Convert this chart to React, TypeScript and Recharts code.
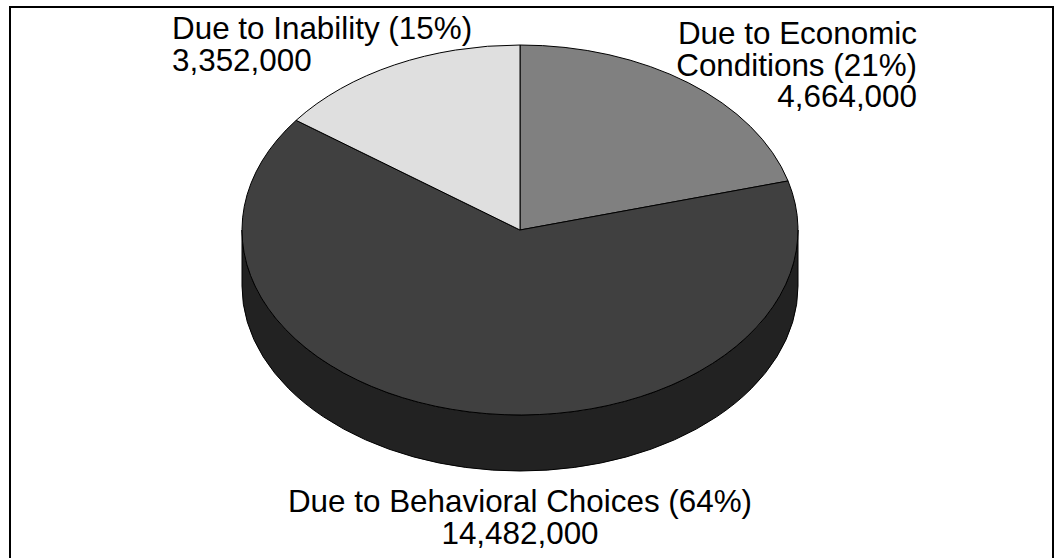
import React from "react";
import { PieChart, Pie } from "recharts";

// Slices, clockwise from twelve o'clock
const categories = ["Economic", "Behavioral", "Inability"];
const amounts = [4664000, 14482000, 3352000];
const faceColors = ["#808080", "#404040", "#dfdfdf"];
const labelLines = [
  ["Due to Economic", "Conditions (21%)", "4,664,000"],
  ["Due to Behavioral Choices (64%)", "14,482,000"],
  ["Due to Inability (15%)", "3,352,000"],
];

const rows = categories.map((name, i) => ({ name, value: amounts[i], fill: faceColors[i] }));

const CX = 520;
const CY = 230;
const RX = 278;
const TILT = 185 / 278; // vertical squash of the tilted disc
const DEPTH = 56;
const WALL_COLOR = "#222222";
const FONT = "'Liberation Sans', Arial, sans-serif";

const ellipsePoint = (cx: number, cy: number, rx: number, deg: number) => {
  const t = (deg * Math.PI) / 180;
  return [cx + rx * Math.cos(t), cy - rx * TILT * Math.sin(t)];
};

// Top face of a slice: the sector's angles laid onto an ellipse
function FaceSlice(p: any) {
  const { cx, cy, outerRadius: rx, startAngle, endAngle, fill } = p;
  const [x0, y0] = ellipsePoint(cx, cy, rx, startAngle);
  const [x1, y1] = ellipsePoint(cx, cy, rx, endAngle);
  const large = Math.abs(startAngle - endAngle) > 180 ? 1 : 0;
  const d = `M${cx},${cy}L${x0},${y0}A${rx},${rx * TILT} 0 ${large} 1 ${x1},${y1}Z`;
  return <path d={d} fill={fill} stroke="#000" strokeWidth={1} strokeLinejoin="round" />;
}

// Side wall of a slice: only the part on the near half of the rim is visible
function WallSlice(p: any) {
  const { cx, cy, outerRadius: rx, startAngle, endAngle } = p;
  const from = Math.max(-startAngle, 0);
  const to = Math.min(-endAngle, 180);
  if (to <= from) return <g />;
  const [x0, y0] = ellipsePoint(cx, cy, rx, -from);
  const [x1, y1] = ellipsePoint(cx, cy, rx, -to);
  const ry = rx * TILT;
  const d =
    `M${x0},${y0}L${x0},${y0 + DEPTH}A${rx},${ry} 0 0 1 ${x1},${y1 + DEPTH}` +
    `L${x1},${y1}A${rx},${ry} 0 0 0 ${x0},${y0}Z`;
  return <path d={d} fill={WALL_COLOR} stroke="#000" strokeWidth={1} strokeLinejoin="round" />;
}

// Where each slice's caption sits: anchor, x, first baseline
const captionPlacement = [
  { anchor: "end", x: 917, y: 44 },
  { anchor: "middle", x: 520, y: 512 },
  { anchor: "start", x: 172, y: 39 },
];

function Caption(p: any) {
  const place = captionPlacement[p.index];
  return (
    <text
      textAnchor={place.anchor as any}
      fontFamily={FONT}
      fontSize={31.4}
      fill="#000"
    >
      {labelLines[p.index].map((line, i) => (
        <tspan key={i} x={place.x} y={place.y + i * 31.5}>
          {line}
        </tspan>
      ))}
    </text>
  );
}

export default function App() {
  return (
    <div style={{ position: "fixed", left: 0, top: 0, width: 1055, height: 558, overflow: "hidden", background: "#fff" }}>
      <div
        style={{
          position: "absolute",
          left: 9,
          top: 6,
          width: 1041,
          height: 600,
          border: "2px solid #000",
          boxSizing: "content-box",
        }}
      />
      <div style={{ position: "absolute", left: 0, top: 0 }}>
        <PieChart width={1055} height={558} margin={{ top: 0, right: 0, bottom: 0, left: 0 }}>
          <Pie
            data={rows}
            dataKey="value"
            cx={CX}
            cy={CY}
            innerRadius={0}
            outerRadius={RX}
            startAngle={90}
            endAngle={-270}
            paddingAngle={0}
            shape={WallSlice}
            isAnimationActive={false}
            label={false}
            labelLine={false}
          />
          <Pie
            data={rows}
            dataKey="value"
            cx={CX}
            cy={CY}
            innerRadius={0}
            outerRadius={RX}
            startAngle={90}
            endAngle={-270}
            paddingAngle={0}
            shape={FaceSlice}
            isAnimationActive={false}
            label={Caption}
            labelLine={false}
          />
        </PieChart>
      </div>
    </div>
  );
}
